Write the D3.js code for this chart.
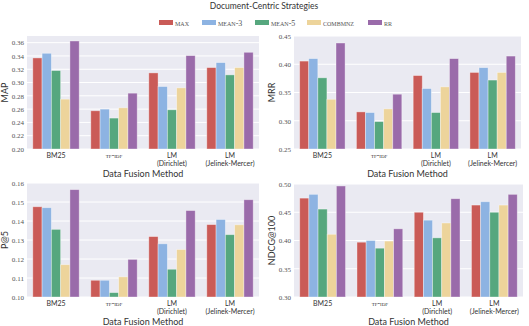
<!DOCTYPE html>
<html>
<head>
<meta charset="utf-8">
<script src="https://cdn.jsdelivr.net/npm/d3@7"></script>
<style>
  body { margin: 0; background: #fff; }
  svg { display: block; }
  .tick text { font-family: "Liberation Serif", serif; font-size: 7px; fill: #555; }
  .xlab { font-family: Lato, sans-serif; font-size: 7px; fill: #333; }
  .sc { font-family: "Liberation Serif", serif; font-variant: small-caps; }
</style>
</head>
<body>
<div id="chart"></div>
<script>
// data
const methods = ["BM25", "tf-idf", "LM|(Dirichlet)", "LM|(Jelinek-Mercer)"];
const strategies = ["max", "mean-3", "mean-5", "combmnz", "rr"];
const colors = ["#ca5b57", "#8db3e2", "#56a77e", "#edd49b", "#9a6baa"];

const mapValues = [
    [0.337, 0.344, 0.318, 0.275, 0.3625],
    [0.2575, 0.260, 0.2465, 0.262, 0.284],
    [0.3145, 0.294, 0.259, 0.292, 0.3405],
    [0.3225, 0.330, 0.3115, 0.3225, 0.3455]
];
const mrrValues = [
    [0.4056, 0.410, 0.376, 0.338, 0.4376],
    [0.3157, 0.3145, 0.2985, 0.321, 0.347],
    [0.380, 0.357, 0.3145, 0.360, 0.410],
    [0.3855, 0.394, 0.372, 0.3855, 0.4145]
];
const p5Values = [
    [0.1475, 0.147, 0.1356, 0.117, 0.1565],
    [0.1088, 0.1088, 0.1023, 0.1106, 0.1198],
    [0.1318, 0.128, 0.1146, 0.125, 0.1455],
    [0.1381, 0.1408, 0.1328, 0.138, 0.1512]
];
const ndcgValues = [
    [0.475, 0.4817, 0.4556, 0.411, 0.4965],
    [0.397, 0.400, 0.3864, 0.399, 0.4207],
    [0.450, 0.436, 0.4047, 0.431, 0.474],
    [0.4627, 0.4686, 0.450, 0.4627, 0.4817]
];

const panels = [
    { label: "MAP", values: mapValues, domain: [0.20, 0.37], ticks: [0.20, 0.22, 0.24, 0.26, 0.28, 0.30, 0.32, 0.34, 0.36], x0: 27, x1: 259, y0: 36, y1: 149 },
    { label: "MRR", values: mrrValues, domain: [0.25, 0.45], ticks: [0.25, 0.30, 0.35, 0.40, 0.45], x0: 294, x1: 521, y0: 36, y1: 149 },
    { label: "P@5", values: p5Values, domain: [0.10, 0.16], ticks: [0.10, 0.11, 0.12, 0.13, 0.14, 0.15, 0.16], x0: 27, x1: 259, y0: 183, y1: 297 },
    { label: "NDCG@100", values: ndcgValues, domain: [0.30, 0.50], ticks: [0.30, 0.35, 0.40, 0.45, 0.50], x0: 294, x1: 523, y0: 184, y1: 297 }
];

const width = 529, height = 326;
const svg = d3.select("#chart").append("svg")
    .attr("width", width).attr("height", height);

svg.append("text")
    .attr("x", 264).attr("y", 9)
    .attr("text-anchor", "middle")
    .style("font-family", "Lato, sans-serif")
    .style("font-size", "8.5px").style("fill", "#333")
    .text("Document-Centric Strategies");

// legend
const legendX = [159, 202, 255, 307, 368];
strategies.forEach((s, i) => {
    svg.append("rect")
        .attr("x", legendX[i]).attr("y", 20)
        .attr("width", 14).attr("height", 5)
        .attr("fill", colors[i]);
    svg.append("text")
        .attr("class", "sc")
        .attr("x", legendX[i] + 16).attr("y", 25.5)
        .style("font-size", "8px").style("fill", "#555")
        .text(s);
});

panels.forEach(p => {
    const g = svg.append("g");

    const x = d3.scaleBand().domain(methods).range([p.x0, p.x1]).paddingInner(0.2).paddingOuter(0.1);
    const xs = d3.scaleBand().domain(strategies).range([0, x.bandwidth()]);
    const y = d3.scaleLinear().domain(p.domain).range([p.y1, p.y0]);

    g.append("rect")
        .attr("x", p.x0).attr("y", p.y0)
        .attr("width", p.x1 - p.x0).attr("height", p.y1 - p.y0)
        .attr("fill", "#eaeaf2");

    g.selectAll(".grid")
        .data(p.ticks)
        .enter()
        .append("line")
        .attr("x1", p.x0).attr("x2", p.x1)
        .attr("y1", d => y(d)).attr("y2", d => y(d))
        .attr("stroke", "#fff").attr("stroke-width", 1);

    const yAxis = g.append("g")
        .attr("transform", `translate(${p.x0},0)`)
        .call(d3.axisLeft(y).tickValues(p.ticks).tickFormat(d3.format(".2f")).tickSize(0).tickPadding(3));
    yAxis.select(".domain").remove();

    methods.forEach((m, mi) => {
        g.selectAll(null)
            .data(p.values[mi])
            .enter()
            .append("rect")
            .attr("x", (d, i) => x(m) + xs(strategies[i]))
            .attr("y", d => y(d))
            .attr("width", xs.bandwidth())
            .attr("height", d => p.y1 - y(d))
            .attr("fill", (d, i) => colors[i])
            .attr("stroke", "rgba(255,255,255,0.45)")
            .attr("stroke-width", 0.8);

        const lines = m.split("|");
        const t = g.append("text")
            .attr("class", m === "tf-idf" ? "sc" : "xlab")
            .attr("x", x(m) + x.bandwidth() / 2)
            .attr("y", p.y1 + 9)
            .attr("text-anchor", "middle")
            .style("font-size", m === "tf-idf" ? "7.5px" : "7px")
            .style("fill", "#333");
        lines.forEach((l, li) => {
            t.append("tspan")
                .attr("x", x(m) + x.bandwidth() / 2)
                .attr("dy", li === 0 ? 0 : 7.5)
                .text(l);
        });
    });

    g.append("text")
        .attr("x", (p.x0 + p.x1) / 2).attr("y", p.y1 + 28)
        .attr("text-anchor", "middle")
        .style("font-family", "Lato, sans-serif")
        .style("font-size", "9px").style("fill", "#333")
        .text("Data Fusion Method");

    g.append("text")
        .attr("transform", `translate(${p.x0 - 19},${(p.y0 + p.y1) / 2}) rotate(-90)`)
        .attr("text-anchor", "middle")
        .style("font-family", "Lato, sans-serif")
        .style("font-size", "9px").style("fill", "#333")
        .text(p.label);
});
</script>
</body>
</html>
